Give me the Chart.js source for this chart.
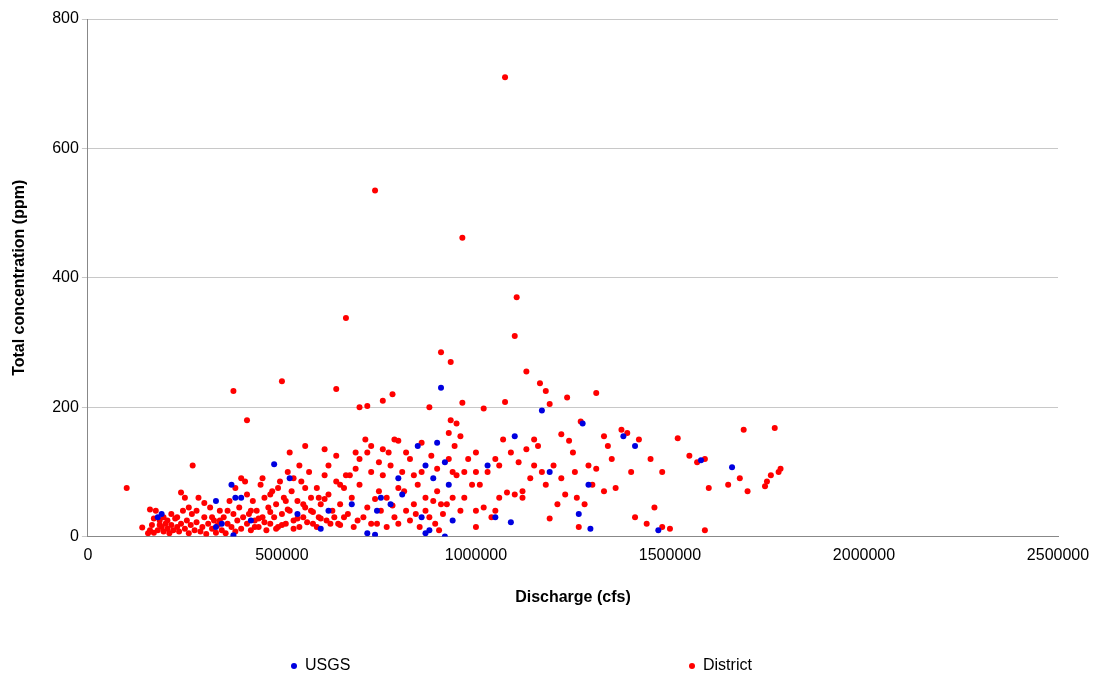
<!DOCTYPE html>
<html><head><meta charset="utf-8">
<script src="https://cdn.jsdelivr.net/npm/chart.js@4"></script>
<style>
body{margin:0;background:#fff;font-family:"Liberation Sans",Arial,sans-serif}
#wrap{position:relative;width:1103px;height:677px}
.lg{position:absolute;top:656px;font-size:16px;color:#000}
.dot{display:inline-block;width:6px;height:6px;border-radius:50%;margin-right:8px;vertical-align:middle}
</style></head><body>
<div id="wrap"><canvas id="c" width="1103" height="677"></canvas>
<div class="lg" style="left:291px"><span class="dot" style="background:#0000e0"></span>USGS</div>
<div class="lg" style="left:689px"><span class="dot" style="background:#ff0000"></span>District</div>
</div>
<script>
// discharge in thousand cfs, concentration in ppm
const usgsPts = [[180,30],[190,35],[330,15],[330,55],[345,20],[370,80],[380,60],[395,60],[375,2],[420,25],[480,112],[520,90],[540,35],[600,12],[620,40],[680,50],[720,5],[740,3],[745,40],[755,60],[780,50],[800,90],[810,65],[850,140],[860,30],[870,110],[870,5],[880,10],[890,90],[900,145],[910,230],[920,115],[920,0],[930,80],[940,25],[1030,110],[1050,30],[1090,22],[1100,155],[1170,195],[1190,100],[1265,35],[1275,175],[1290,80],[1295,12],[1380,155],[1410,140],[1470,10],[1580,118],[1660,107]];

const districtPts = [[100,75],[1075,710],[740,535],[965,462],[1105,370],[665,338],[1100,310],[910,285],[935,270],[1130,255],[500,240],[375,225],[640,228],[1310,222],[785,220],[1235,215],[1165,237],[1180,225],[1075,208],[760,210],[965,207],[700,200],[720,202],[1020,198],[880,200],[410,180],[935,180],[1190,205],[1270,178],[1375,165],[1390,160],[1690,165],[1770,168],[1520,152],[1420,150],[1330,155],[1220,158],[1240,148],[1160,140],[1070,150],[1000,130],[980,120],[960,155],[930,160],[860,145],[790,150],[800,148],[760,135],[730,140],[690,130],[640,125],[610,135],[560,140],[520,130],
[1450,120],[1480,100],[1400,100],[1360,75],[1300,80],[1290,110],[1330,70],[1410,30],[1440,20],[1460,45],[1480,15],[1500,12],[1590,10],[1600,75],[1570,115],[1590,120],[1650,80],[1680,90],[1700,70],[1750,85],[1745,78],[1760,95],[1780,100],[1785,105],[1550,125],[1255,100],[1200,110],[1220,90],[1190,28],[1230,65],[1260,60],[1265,15],[1280,50],[1180,80],[1150,110],[1120,70],[1100,65],[1080,68],[1060,60],[1050,40],[1040,30],[1020,45],[1000,40],[1010,80],[1030,100],[1050,120],[1060,110],[1090,130],[1110,115],[1140,90],[1150,150],[1170,100],[1130,135],[1120,60],[1210,50],[1250,130],[1310,105],[1340,140],[1350,120],
[950,175],[945,140],[930,120],[950,95],[940,60],[960,40],[970,100],[990,80],[900,70],[910,50],[890,55],[880,30],[870,60],[860,100],[850,80],[840,50],[830,120],[820,40],[810,100],[800,75],[790,30],[780,110],[770,60],[760,95],[750,70],[745,20],[730,100],[720,45],[715,150],[700,80],[695,25],[690,105],[680,60],[675,95],[670,35],[660,75],[650,50],[645,20],[640,85],[630,40],[620,65],[615,25],[610,95],[600,50],[595,30],[590,75],[580,20],[575,60],[570,100],[560,45],[555,30],[550,85],[545,15],[540,55],[530,25],[525,70],[520,40],[515,100],[510,20],[505,60],[500,35],[495,85],[490,15],[485,50],[480,30],[475,70],[470,20],[465,45],[460,10],[455,60],[450,30],[445,80],[440,15],[435,40],[430,25],[425,55],[420,10],[415,35],[410,20],[405,85],[400,30],[395,12],[390,45],[385,25],[380,8],[375,35],[370,15],[365,55],[360,20],[355,5],[350,30],[345,10],[340,40],[335,18],[330,6],[325,25],[320,12],[315,45],[310,20],[305,4],[300,30],[295,15],[290,8],[285,60],[280,22],[275,10],[270,110],[268,35],[265,18],[260,5],[255,25],[250,12],[245,40],[240,20],[235,8],[230,15],[225,28],[220,10],[215,18],[210,5],[205,12],[200,20],[195,8],[190,15],[185,25],[180,10],[175,40],[170,6],[165,18],[160,10],[155,5],[140,14],
[420,40],[430,15],[440,28],[455,22],[470,38],[485,12],[500,18],[515,42],[530,12],[540,28],[555,50],[565,22],[580,38],[590,15],[600,28],[610,58],[625,20],[635,30],[650,18],[660,30],[665,95],[685,15],[710,30],[730,20],[740,58],[755,40],[770,15],[785,48],[800,20],[815,70],[830,25],[845,35],[855,15],[870,40],[895,20],[905,10],[915,35],[925,50],[970,60],[1000,15],[360,40],[340,25],[320,30],[300,52],[280,40],[260,45],[250,60],[240,68],[230,30],[215,35],[205,25],[195,30],[185,18],[170,28],[160,42],[380,75],[395,90],[410,65],[450,90],[470,65],[490,75],[510,55],[530,90],[545,110],[560,75],[575,40],[595,60],[620,110],[650,80],[700,120],[720,130],[750,115],[775,130],[820,130],[840,95],[885,125],[900,105],[940,100],[1000,100]];

const xTicks = [0, 500000, 1000000, 1500000, 2000000, 2500000];
const yTicks = [0, 200, 400, 600, 800];

const toXY = arr => arr.map(p => ({x: p[0] * 1000, y: p[1]}));
const font = {family: '"Liberation Sans", Arial, sans-serif', size: 16};

new Chart(document.getElementById('c'), {
  type: 'scatter',
  data: {
    datasets: [
      {label: 'District', data: toXY(districtPts), backgroundColor: '#ff0000', borderWidth: 0, pointRadius: 3, order: 2},
      {label: 'USGS', data: toXY(usgsPts), backgroundColor: '#0000e0', borderWidth: 0, pointRadius: 3, order: 1}
    ]
  },
  options: {
    responsive: false,
    animation: false,
    layout: {padding: {top: 19, right: 45, bottom: 66, left: 6}},
    plugins: {legend: {display: false}, tooltip: {enabled: false}},
    scales: {
      x: {
        min: 0, max: 2500000,
        afterBuildTicks: ax => { ax.ticks = xTicks.map(v => ({value: v})); },
        ticks: {color: '#000', font, callback: v => String(v)},
        grid: {display: false, drawTicks: true, tickLength: 6, color: '#888'},
        border: {color: '#888'},
        title: {display: true, text: 'Discharge (cfs)', color: '#000', font: {...font, weight: 'bold'}, padding: {top: 20, bottom: 4}}
      },
      y: {
        min: 0, max: 800,
        afterBuildTicks: ax => { ax.ticks = yTicks.map(v => ({value: v})); },
        ticks: {color: '#000', font},
        grid: {color: '#c8c8c8', tickLength: 6},
        border: {color: '#888'},
        title: {display: true, text: 'Total concentration (ppm)', color: '#000', font: {...font, weight: 'bold'}, padding: {top: 4, bottom: 20}}
      }
    }
  }
});
</script>
</body></html>
